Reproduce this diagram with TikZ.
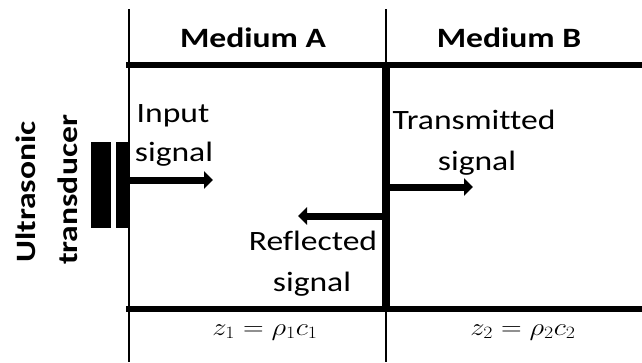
\documentclass[tikz,border=0pt]{standalone}
\usepackage{fontspec}
\setmainfont{Carlito}
\newfontfamily\wide[FakeStretch=1.2,Ligatures={NoCommon}]{Carlito}
\usetikzlibrary{arrows.meta}
\begin{document}
\begin{tikzpicture}[x=1pt,y=-1pt,
  lbl/.style={inner sep=0pt,anchor=base,font=\wide\fontsize{28}{34}\selectfont},
  blbl/.style={lbl,font=\wide\bfseries\fontsize{28}{34}\selectfont},
  mlbl/.style={inner sep=0pt,anchor=base},
  thinline/.style={line width=2pt},
  thickline/.style={line width=6pt},
  wall/.style={line width=8pt},
  sig/.style={line width=7pt,-{Triangle[width=17pt,length=9pt]}}]
\useasboundingbox (0,0) rectangle (642,362);
% frame lines
\coordinate (lt) at (129,9);  \coordinate (lb) at (129,362);
\coordinate (mt) at (386,9);  \coordinate (mb) at (386,362);
\coordinate (tl) at (126,65); \coordinate (tr) at (642,65);
\coordinate (bl) at (126,309); \coordinate (br) at (642,309);
\coordinate (wt) at (386,62); \coordinate (wb) at (386,312);
\draw[thinline] (lt) -- (lb);
\draw[thinline] (mt) -- (mb);
\draw[thickline] (tl) -- (tr);
\draw[thickline] (bl) -- (br);
\draw[wall] (wt) -- (wb);
% transducer
\fill[black] (91,142) rectangle (111,228);
\fill[black] (116,142) rectangle (130,228);
% headers
\node[blbl] (ma) at (253,47) {Medium A};
\node[blbl] (mbh) at (509,47) {Medium B};
\node[blbl,rotate=90] (u1) at (35,192) {Ultrasonic};
\node[blbl,rotate=90] (u2) at (77,190) {transducer};
% labels
\node[lbl] (in1) at (173,122) {Input};
\node[lbl] (in2) at (174,161) {signal};
\node[lbl] (tr1) at (474,129) {Transmitted};
\node[lbl] (tr2) at (477,170) {signal};
\node[lbl] (rf1) at (313,250) {Reflected};
\node[lbl] (rf2) at (312,291) {signal};
% impedances
\node[mlbl] (z1) at (265,335) {\scalebox{1.15}[1]{\fontsize{24}{28}\selectfont$z_1=\rho_1c_1$}};
\node[mlbl] (z2) at (523,335) {\scalebox{1.15}[1]{\fontsize{24}{28}\selectfont$z_2=\rho_2c_2$}};
% signals
\coordinate (is) at (130,180); \coordinate (ie) at (213,180);
\coordinate (ts) at (389,187); \coordinate (te) at (473,187);
\coordinate (rs) at (383,216); \coordinate (re) at (298,216);
\draw[sig] (is) -- (ie);
\draw[sig] (ts) -- (te);
\draw[sig] (rs) -- (re);
\end{tikzpicture}
\end{document}
